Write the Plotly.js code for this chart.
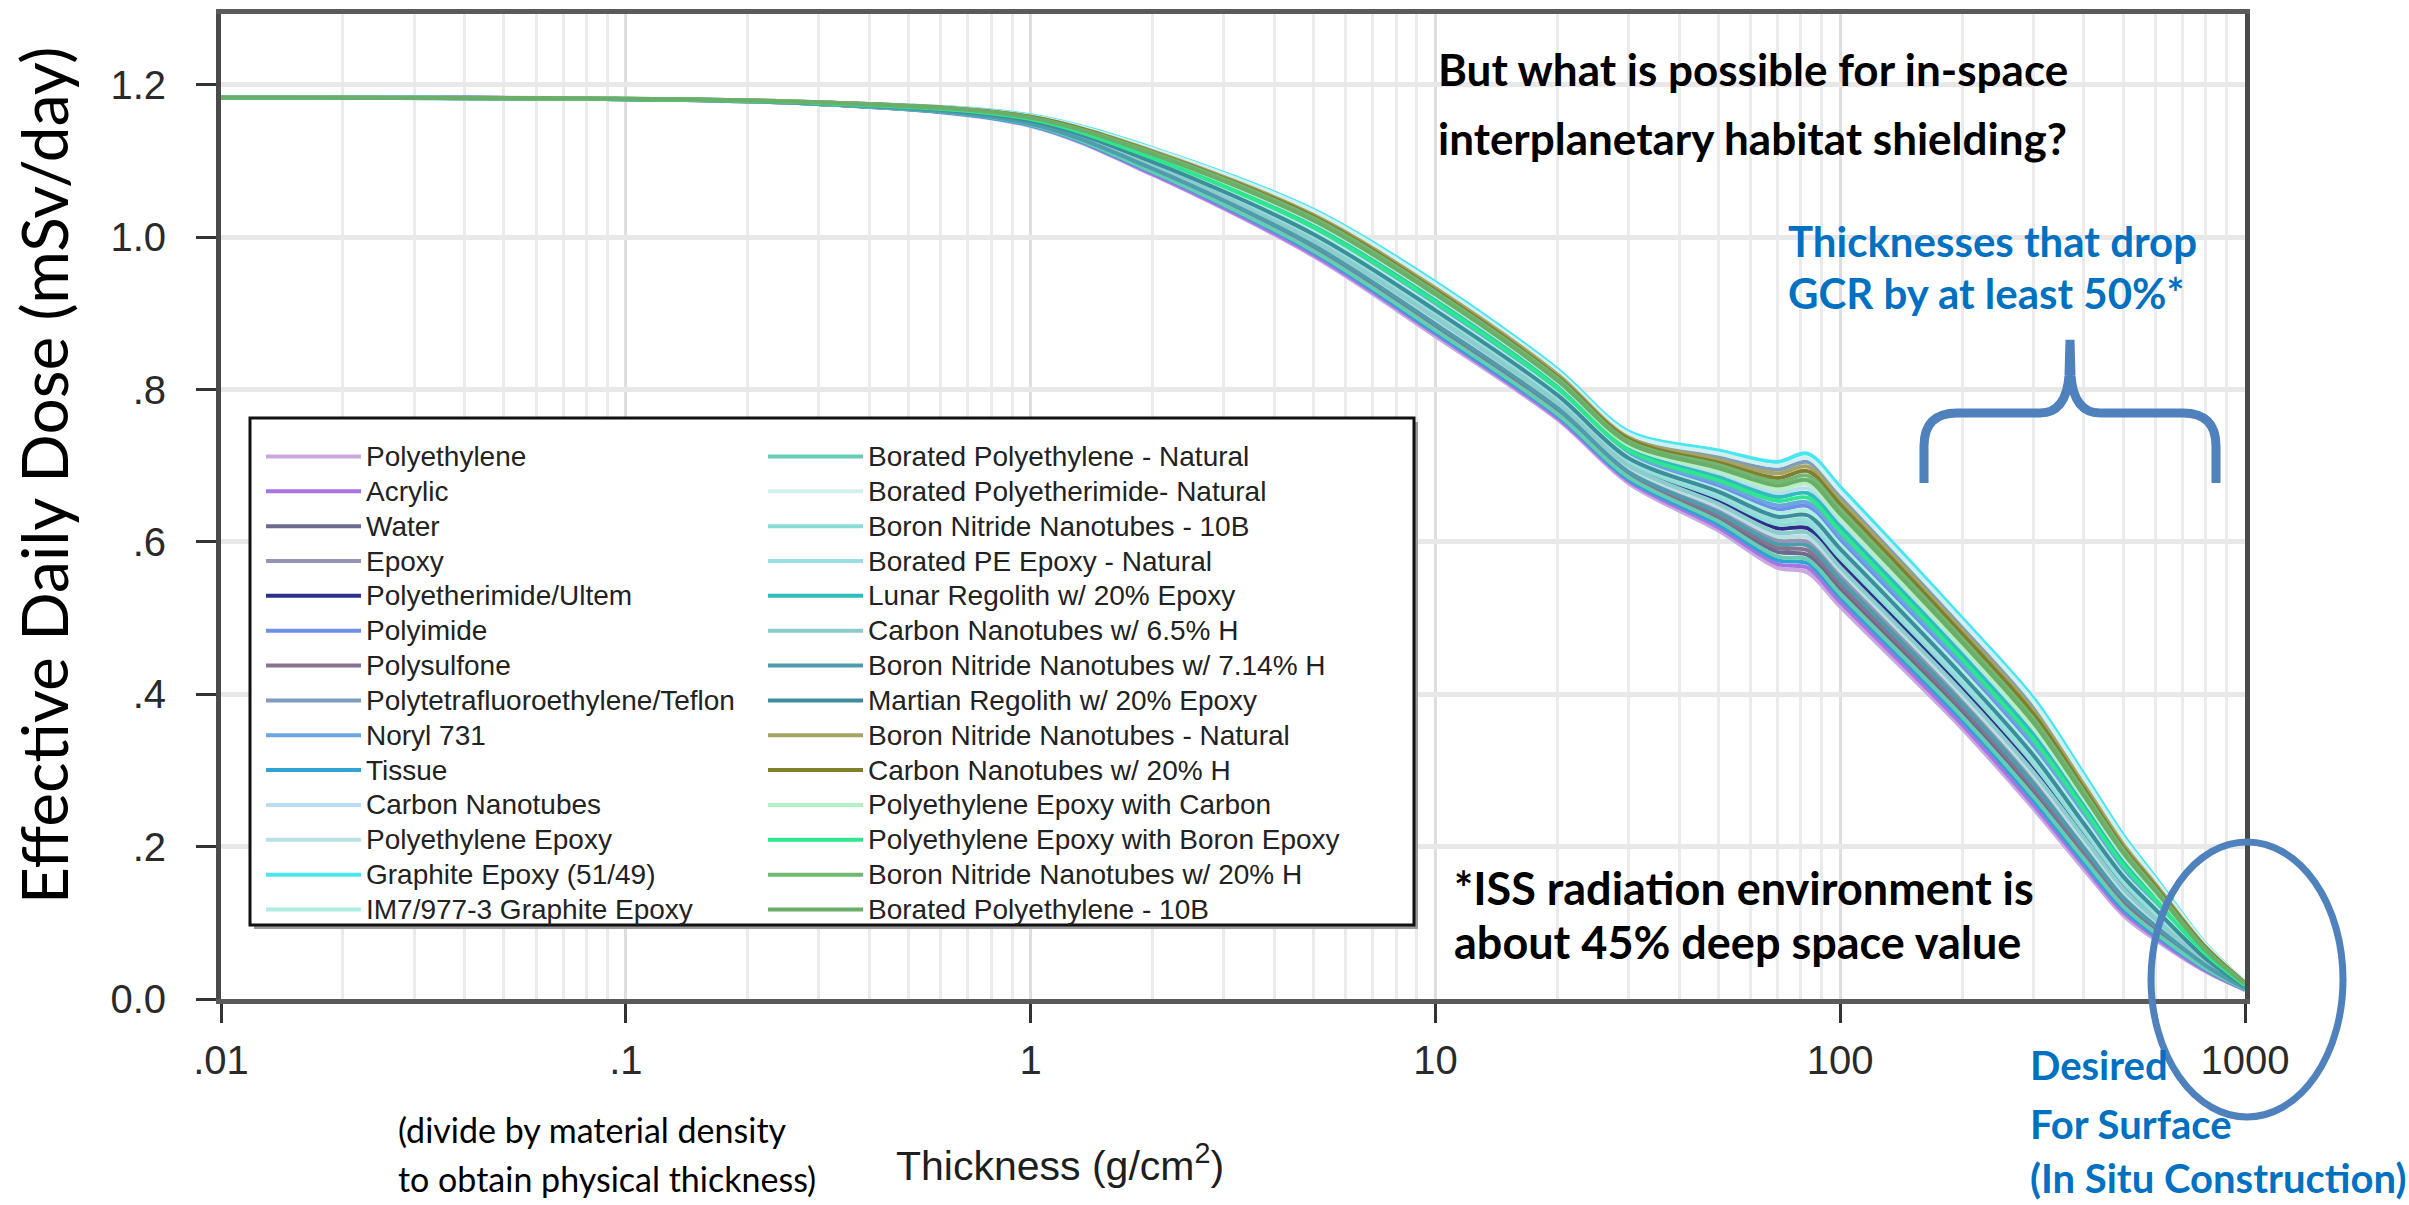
<!DOCTYPE html>
<html>
<head>
<meta charset="utf-8">
<script src="https://cdn.plot.ly/plotly-3.0.1.min.js"></script>
<style>html,body{margin:0;padding:0;background:#fff}#chart{width:2409px;height:1205px}</style>
</head>
<body>
<div id="chart"></div>
<script>
// ---- data ----
const thickness = [0.01, 0.3, 1, 2, 5, 10, 20, 30, 50, 70, 83, 100, 200, 300, 400, 500, 600, 800, 1000];

const polyethylene      = [1.183, 1.175, 1.146, 1.082, 0.975, 0.870, 0.761, 0.677, 0.615, 0.566, 0.560, 0.515, 0.355, 0.250, 0.170, 0.110, 0.078, 0.036, 0.012];
const acrylic           = [1.183, 1.175, 1.147, 1.083, 0.977, 0.873, 0.763, 0.680, 0.619, 0.571, 0.566, 0.521, 0.360, 0.255, 0.175, 0.114, 0.081, 0.037, 0.012];
const tissue            = [1.183, 1.175, 1.147, 1.085, 0.980, 0.875, 0.766, 0.682, 0.623, 0.576, 0.572, 0.527, 0.366, 0.261, 0.179, 0.118, 0.084, 0.039, 0.013];
const boratedPENatural  = [1.183, 1.175, 1.148, 1.086, 0.982, 0.878, 0.768, 0.685, 0.627, 0.581, 0.577, 0.532, 0.371, 0.266, 0.184, 0.122, 0.087, 0.040, 0.013];
const water             = [1.183, 1.175, 1.148, 1.087, 0.984, 0.881, 0.771, 0.687, 0.631, 0.587, 0.583, 0.538, 0.376, 0.271, 0.189, 0.126, 0.090, 0.041, 0.013];
const polysulfone       = [1.183, 1.175, 1.149, 1.089, 0.986, 0.883, 0.773, 0.690, 0.634, 0.592, 0.589, 0.544, 0.382, 0.277, 0.193, 0.129, 0.093, 0.043, 0.014];
const bnnt714H          = [1.183, 1.175, 1.149, 1.090, 0.989, 0.886, 0.776, 0.692, 0.638, 0.597, 0.595, 0.550, 0.387, 0.282, 0.198, 0.133, 0.096, 0.044, 0.014];
const epoxy             = [1.183, 1.175, 1.150, 1.091, 0.991, 0.888, 0.778, 0.695, 0.642, 0.602, 0.600, 0.556, 0.393, 0.288, 0.202, 0.137, 0.099, 0.045, 0.015];
const peEpoxy           = [1.183, 1.175, 1.150, 1.092, 0.993, 0.891, 0.781, 0.697, 0.646, 0.607, 0.606, 0.562, 0.398, 0.293, 0.207, 0.141, 0.102, 0.047, 0.015];
const cnt65H            = [1.183, 1.176, 1.151, 1.094, 0.995, 0.894, 0.783, 0.700, 0.650, 0.612, 0.612, 0.567, 0.403, 0.298, 0.212, 0.145, 0.105, 0.048, 0.015];
const ultem             = [1.183, 1.176, 1.151, 1.095, 0.998, 0.896, 0.785, 0.702, 0.654, 0.618, 0.618, 0.573, 0.409, 0.304, 0.216, 0.149, 0.108, 0.049, 0.016];
const bnnt10B           = [1.183, 1.176, 1.152, 1.096, 1.000, 0.899, 0.788, 0.705, 0.658, 0.623, 0.624, 0.579, 0.414, 0.309, 0.221, 0.153, 0.111, 0.051, 0.016];
const boratedPEEpoxy    = [1.183, 1.176, 1.152, 1.098, 1.002, 0.902, 0.790, 0.707, 0.662, 0.628, 0.629, 0.585, 0.419, 0.314, 0.226, 0.157, 0.114, 0.052, 0.016];
const martianRegolith   = [1.183, 1.176, 1.153, 1.099, 1.004, 0.904, 0.793, 0.710, 0.666, 0.633, 0.635, 0.591, 0.425, 0.320, 0.230, 0.161, 0.118, 0.053, 0.017];
const im7GraphiteEpoxy  = [1.183, 1.176, 1.153, 1.100, 1.007, 0.907, 0.795, 0.712, 0.669, 0.638, 0.641, 0.596, 0.430, 0.325, 0.235, 0.164, 0.121, 0.055, 0.017];
const polyimide         = [1.183, 1.176, 1.154, 1.102, 1.009, 0.909, 0.798, 0.715, 0.673, 0.643, 0.647, 0.602, 0.436, 0.331, 0.239, 0.168, 0.124, 0.056, 0.018];
const noryl731          = [1.183, 1.176, 1.154, 1.103, 1.011, 0.912, 0.800, 0.717, 0.677, 0.648, 0.652, 0.608, 0.441, 0.336, 0.244, 0.172, 0.127, 0.057, 0.018];
const peEpoxyBoron      = [1.183, 1.176, 1.155, 1.104, 1.013, 0.915, 0.802, 0.720, 0.681, 0.654, 0.658, 0.614, 0.446, 0.341, 0.249, 0.176, 0.130, 0.059, 0.018];
const lunarRegolith     = [1.183, 1.176, 1.155, 1.105, 1.016, 0.917, 0.805, 0.722, 0.685, 0.659, 0.664, 0.620, 0.452, 0.347, 0.253, 0.180, 0.133, 0.060, 0.019];
const carbonNanotubes   = [1.183, 1.177, 1.156, 1.107, 1.018, 0.920, 0.807, 0.725, 0.689, 0.664, 0.670, 0.625, 0.457, 0.352, 0.258, 0.184, 0.136, 0.061, 0.019];
const peEpoxyCarbon     = [1.183, 1.177, 1.156, 1.108, 1.020, 0.923, 0.810, 0.727, 0.693, 0.669, 0.676, 0.631, 0.462, 0.357, 0.263, 0.188, 0.139, 0.063, 0.019];
const boratedPE10B      = [1.183, 1.177, 1.157, 1.109, 1.022, 0.925, 0.812, 0.730, 0.697, 0.674, 0.681, 0.637, 0.468, 0.363, 0.267, 0.192, 0.142, 0.064, 0.020];
const bnnt20H           = [1.183, 1.177, 1.157, 1.111, 1.025, 0.928, 0.815, 0.732, 0.701, 0.679, 0.687, 0.643, 0.473, 0.368, 0.272, 0.196, 0.145, 0.065, 0.020];
const cnt20H            = [1.183, 1.177, 1.158, 1.112, 1.027, 0.930, 0.817, 0.735, 0.704, 0.684, 0.693, 0.649, 0.479, 0.374, 0.276, 0.199, 0.148, 0.067, 0.021];
const bnntNatural       = [1.183, 1.177, 1.158, 1.113, 1.029, 0.933, 0.820, 0.737, 0.708, 0.690, 0.699, 0.655, 0.484, 0.379, 0.281, 0.203, 0.151, 0.068, 0.021];
const teflon            = [1.183, 1.177, 1.159, 1.115, 1.032, 0.936, 0.822, 0.740, 0.712, 0.695, 0.705, 0.660, 0.489, 0.384, 0.286, 0.207, 0.154, 0.069, 0.021];
const boratedPEINatural = [1.183, 1.177, 1.159, 1.116, 1.034, 0.938, 0.824, 0.742, 0.716, 0.700, 0.710, 0.666, 0.495, 0.390, 0.290, 0.211, 0.157, 0.071, 0.022];
const graphiteEpoxy     = [1.183, 1.177, 1.160, 1.117, 1.036, 0.941, 0.827, 0.745, 0.720, 0.705, 0.716, 0.672, 0.500, 0.395, 0.295, 0.215, 0.160, 0.072, 0.022];

const seriesNames = [
  'Polyethylene', 'Acrylic', 'Water', 'Epoxy', 'Polyetherimide/Ultem', 'Polyimide', 'Polysulfone',
  'Polytetrafluoroethylene/Teflon', 'Noryl 731', 'Tissue', 'Carbon Nanotubes', 'Polyethylene Epoxy',
  'Graphite Epoxy (51/49)', 'IM7/977-3 Graphite Epoxy',
  'Borated Polyethylene - Natural', 'Borated Polyetherimide- Natural', 'Boron Nitride Nanotubes - 10B',
  'Borated PE Epoxy - Natural', 'Lunar Regolith w/ 20% Epoxy', 'Carbon Nanotubes w/ 6.5% H',
  'Boron Nitride Nanotubes w/ 7.14% H', 'Martian Regolith w/ 20% Epoxy', 'Boron Nitride Nanotubes - Natural',
  'Carbon Nanotubes w/ 20% H', 'Polyethylene Epoxy with Carbon', 'Polyethylene Epoxy with Boron Epoxy',
  'Boron Nitride Nanotubes w/ 20% H', 'Borated Polyethylene - 10B'
];
const seriesValues = [
  polyethylene, acrylic, water, epoxy, ultem, polyimide, polysulfone, teflon, noryl731, tissue,
  carbonNanotubes, peEpoxy, graphiteEpoxy, im7GraphiteEpoxy,
  boratedPENatural, boratedPEINatural, bnnt10B, boratedPEEpoxy, lunarRegolith, cnt65H, bnnt714H,
  martianRegolith, bnntNatural, cnt20H, peEpoxyCarbon, peEpoxyBoron, bnnt20H, boratedPE10B
];
const seriesColors = [
  '#c9a9e0', '#a874e4', '#6b6b8f', '#9494b4', '#2e2e8a', '#6e8fe8', '#857390',
  '#7f9cbc', '#6ca6e0', '#2ea4d4', '#b8dcf2', '#b8e0e4', '#48e6f0', '#aeeee2',
  '#66ccb4', '#d0f0f0', '#8adcd4', '#98dede', '#2fbcbc', '#8ccccc', '#4e9cac',
  '#3c8e9a', '#a3a466', '#7f7f2e', '#b4f0c4', '#2ee68e', '#72b872', '#6aae6a'
];

const xTickVals = [0.01, 0.1, 1, 10, 100, 1000];
const xTickText = ['.01', '.1', '1', '10', '100', '1000'];
const yTickVals = [0, 0.2, 0.4, 0.6, 0.8, 1.0, 1.2];
const yTickText = ['0.0', '.2', '.4', '.6', '.8', '1.0', '1.2'];

// ---- layout helpers (pixel -> paper) ----
const W = 2409, H = 1205;
const PL = 221, PR = 2245, PT = 14, PB = 999;
const px = v => (v - PL) / (PR - PL);
const py = v => (PB - v) / (PB - PT);

const minorVals = [];
for (let e = -2; e < 3; e++) for (let d = 2; d <= 9; d++) minorVals.push(d * Math.pow(10, e));

const traces = seriesValues.map((vals, i) => ({
  type: 'scatter', mode: 'lines',
  x: thickness, y: vals,
  name: '<span style="font-size:28px">' + seriesNames[i] + '</span>',
  line: {color: seriesColors[i], width: 4, shape: 'spline', smoothing: 0.9},
  legend: i < 14 ? 'legend' : 'legend2',
  hoverinfo: 'skip'
}));

const legendFont = {family: 'Liberation Sans, Arial, sans-serif', size: 24.5, color: '#222'};
const legendCommon = {
  xanchor: 'left', yanchor: 'top', bgcolor: 'rgba(0,0,0,0)', borderwidth: 0,
  font: legendFont, itemwidth: 95, tracegroupgap: 0, traceorder: 'normal'
};

const brace = [
  ['M', 1924, 483], ['L', 1924, 446], ['Q', 1924, 413, 1957, 413], ['L', 2040, 413],
  ['Q', 2066, 413, 2069, 376], ['L', 2070, 340], ['L', 2071, 376], ['Q', 2074, 413, 2100, 413],
  ['L', 2183, 413], ['Q', 2216, 413, 2216, 446], ['L', 2216, 483]
].map(seg => {
  const cmd = seg[0]; const pts = [];
  for (let k = 1; k < seg.length; k += 2) pts.push(px(seg[k]).toFixed(5) + ',' + py(seg[k + 1]).toFixed(5));
  return cmd + pts.join(' ');
}).join(' ');

const blue = '#0070C0';
const shapeBlue = '#4F81BD';
const calibriLike = 'Lato, sans-serif';

function note(text, x, y, size, color, opts) {
  return Object.assign({
    xref: 'paper', yref: 'paper', x: px(x), y: py(y), xanchor: 'left', yanchor: 'middle', align: 'left',
    text: text, showarrow: false, font: {family: calibriLike, size: size, color: color}
  }, opts || {});
}

const layout = {
  width: W, height: H,
  margin: {l: PL, r: W - PR, t: PT, b: H - PB, pad: 0},
  paper_bgcolor: '#ffffff', plot_bgcolor: '#ffffff',
  showlegend: true,
  hovermode: false,
  xaxis: {
    type: 'log', range: [-2, 3], autorange: false,
    tickmode: 'array', tickvals: xTickVals, ticktext: xTickText,
    ticks: 'outside', ticklen: 19, tickwidth: 3, tickcolor: '#333',
    ticklabelstandoff: 3,
    tickfont: {family: 'Liberation Sans, Arial, sans-serif', size: 40, color: '#2a2a2a'},
    showgrid: true, gridcolor: '#dedede', gridwidth: 3,
    minor: {tickmode: 'array', tickvals: minorVals, showgrid: true, gridcolor: '#ebebeb', gridwidth: 3, ticks: ''},
    showline: true, linecolor: '#5a5a5a', linewidth: 5, mirror: true,
    zeroline: false, automargin: false
  },
  yaxis: {
    range: [0, 1.293], autorange: false,
    tickmode: 'array', tickvals: yTickVals, ticktext: yTickText,
    ticks: 'outside', ticklen: 20, tickwidth: 3, tickcolor: '#333',
    ticklabelstandoff: 22,
    tickfont: {family: 'Liberation Sans, Arial, sans-serif', size: 40, color: '#2a2a2a'},
    showgrid: true, gridcolor: '#e8e8e8', gridwidth: 5,
    showline: true, linecolor: '#4a4a4a', linewidth: 5, mirror: true,
    zeroline: false, automargin: false
  },
  legend: Object.assign({x: px(261), y: py(434)}, legendCommon),
  legend2: Object.assign({x: px(763), y: py(434)}, legendCommon),
  shapes: [
    {type: 'rect', xref: 'paper', yref: 'paper', layer: 'above',
     x0: px(254), x1: px(1418), y0: py(929), y1: py(422),
     line: {width: 0}, fillcolor: '#9a9a9a'},
    {type: 'rect', xref: 'paper', yref: 'paper', layer: 'above',
     x0: px(250), x1: px(1414), y0: py(925), y1: py(418),
     line: {color: '#111', width: 3}, fillcolor: '#ffffff'},
    {type: 'path', xref: 'paper', yref: 'paper', layer: 'above', path: brace,
     line: {color: shapeBlue, width: 9}},
    {type: 'circle', xref: 'paper', yref: 'paper', layer: 'above',
     x0: px(2151), x1: px(2343), y0: py(1117), y1: py(842),
     line: {color: shapeBlue, width: 7}, fillcolor: 'rgba(0,0,0,0)'}
  ],
  annotations: [
    note('Effective Daily Dose (mSv/day)', 43, 476, 64, '#000', {xanchor: 'center', textangle: -90}),
    {xref: 'paper', yref: 'paper', x: px(1060), y: py(1163), xanchor: 'center', yanchor: 'middle',
     text: 'Thickness (g/cm<sup>2</sup>)', showarrow: false,
     font: {family: 'Liberation Sans, Arial, sans-serif', size: 41, color: '#1e1e1e'}},
    note('(divide by material density', 396, 1129, 34, '#000'),
    note('to obtain physical thickness)', 396, 1178, 34, '#000'),
    note('<b>But what is possible for in-space</b>', 1436, 69, 44, '#000'),
    note('<b>interplanetary habitat shielding?</b>', 1436, 138, 44, '#000'),
    note('<b>Thicknesses that drop</b>', 1786, 241, 42, blue),
    note('<b>GCR by at least 50%*</b>', 1786, 293, 42, blue),
    note('<b>*ISS radiation environment is</b>', 1452, 888, 45, '#000'),
    note('<b>about 45% deep space value</b>', 1452, 942, 45, '#000'),
    note('<b>Desired</b>', 2028, 1065, 40, blue),
    note('<b>For Surface</b>', 2028, 1124, 40, blue),
    note('<b>(In Situ Construction)</b>', 2028, 1178, 40, blue)
  ]
};

Plotly.newPlot('chart', traces, layout, {displayModeBar: false, staticPlot: true}).then(() => {
  document.querySelectorAll('text').forEach(t => {
    let empty = !t.textContent.trim();
    try { const b = t.getBBox(); if (b.width === 0 && b.height === 0) empty = true; } catch (e) {}
    if (empty) t.remove();
  });
});
</script>
</body>
</html>
